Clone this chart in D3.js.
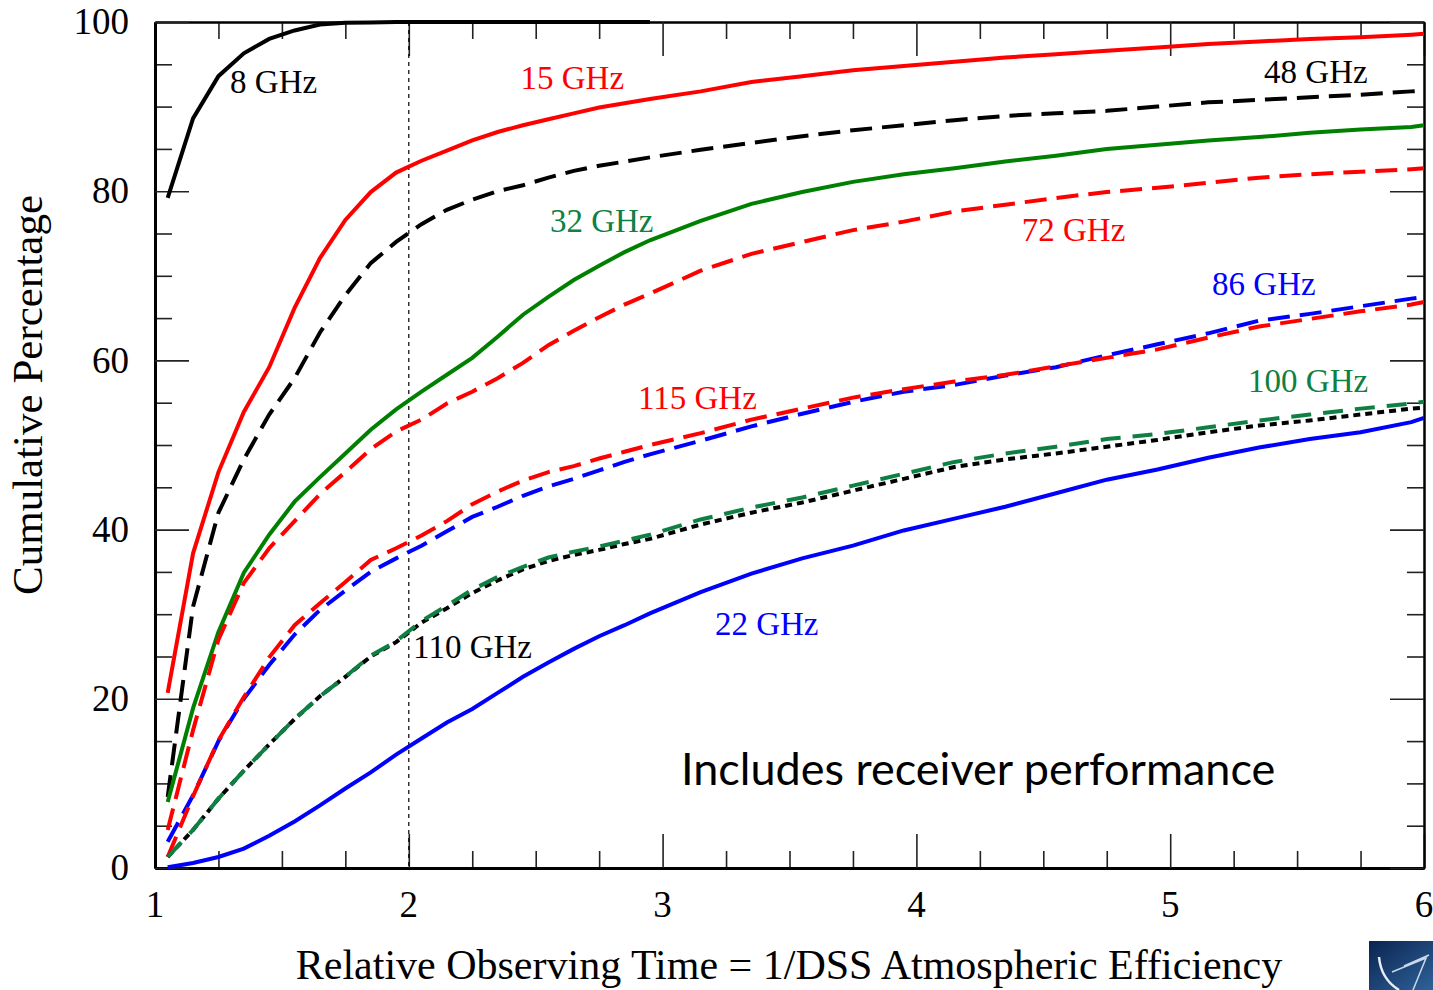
<!DOCTYPE html>
<html>
<head>
<meta charset="utf-8">
<script src="https://cdn.jsdelivr.net/npm/d3@7"></script>
<style>
  html, body { margin: 0; padding: 0; background: #ffffff; }
  svg { display: block; }
</style>
</head>
<body>
<svg id="chart" width="1433" height="990"></svg>
<script>
// Relative observing time (1 / atmospheric efficiency) at which each curve is sampled
const timeGrid = [1.05, 1.15, 1.25, 1.35, 1.45, 1.55, 1.65, 1.75, 1.85, 1.95,
                  2.05, 2.15, 2.25, 2.35, 2.45, 2.55, 2.65, 2.75, 2.85, 2.95,
                  3.15, 3.35, 3.55, 3.75, 3.95, 4.15, 4.35, 4.55, 4.75, 4.95,
                  5.15, 5.35, 5.55, 5.75, 5.95, 6.0];

// Cumulative percentage of time for each band
const pct8GHz   = [79.2, 88.6, 93.6, 96.3, 98.0, 99.0, 99.7, 99.9, 99.95, 100,
                   100, 100, 100, 100, 100, 100, 100, 100, 100, 100];
const pct15GHz  = [20.7, 37.2, 46.8, 53.9, 59.2, 66.2, 72.1, 76.6, 79.9, 82.2,
                   83.6, 84.8, 86.0, 87.0, 87.8, 88.5, 89.2, 89.9, 90.4, 90.9,
                   91.8, 92.9, 93.6, 94.3, 94.8, 95.3, 95.8, 96.2, 96.6, 97.0,
                   97.4, 97.7, 98.0, 98.2, 98.5, 98.6];
const pct48GHz  = [8.4, 30.9, 42.0, 48.3, 53.6, 57.9, 63.3, 67.7, 71.5, 74.0,
                   76.1, 77.8, 79.0, 80.0, 80.7, 81.6, 82.4, 83.0, 83.5, 84.0,
                   84.9, 85.7, 86.5, 87.2, 87.8, 88.4, 88.9, 89.2, 89.5, 90.0,
                   90.5, 90.8, 91.1, 91.4, 91.8, 91.9];
const pct32GHz  = [7.8, 18.9, 27.9, 34.9, 39.4, 43.3, 46.2, 49.0, 51.8, 54.2,
                   56.3, 58.3, 60.3, 62.8, 65.4, 67.5, 69.5, 71.2, 72.8, 74.2,
                   76.5, 78.5, 79.9, 81.1, 82.0, 82.7, 83.5, 84.2, 85.0, 85.5,
                   86.0, 86.4, 86.9, 87.3, 87.6, 87.8];
const pct72GHz  = [4.5, 16.3, 27.0, 33.7, 37.8, 41.0, 44.2, 46.8, 49.5, 51.6,
                   53.0, 54.9, 56.3, 57.9, 59.7, 61.8, 63.5, 65.1, 66.6, 67.9,
                   70.6, 72.6, 74.0, 75.4, 76.4, 77.6, 78.4, 79.2, 79.9, 80.4,
                   81.0, 81.6, 82.0, 82.3, 82.6, 82.7];
const pct86GHz  = [3.1, 8.6, 15.0, 20.0, 24.0, 27.6, 30.5, 32.8, 35.0, 36.6,
                   38.1, 39.8, 41.5, 42.7, 44.0, 45.1, 46.0, 47.0, 48.0, 48.9,
                   50.5, 52.2, 53.7, 55.1, 56.3, 57.1, 58.2, 59.2, 60.6, 61.9,
                   63.2, 64.7, 65.5, 66.4, 67.3, 67.5];
const pct115GHz = [1.3, 8.5, 15.1, 20.2, 24.9, 28.7, 31.3, 33.8, 36.4, 37.8,
                   39.3, 41.0, 43.0, 44.5, 45.8, 46.8, 47.5, 48.4, 49.2, 50.0,
                   51.4, 53.0, 54.3, 55.6, 56.6, 57.5, 58.3, 59.3, 60.3, 61.3,
                   62.7, 64.0, 64.9, 65.8, 66.6, 66.9];
const pct100GHz = [1.3, 4.5, 8.2, 11.5, 14.6, 17.6, 20.3, 22.6, 25.1, 26.8,
                   29.2, 31.0, 32.9, 34.4, 35.6, 36.7, 37.4, 38.0, 38.7, 39.4,
                   41.2, 42.6, 43.8, 45.2, 46.6, 48.0, 49.0, 49.8, 50.7, 51.3,
                   52.1, 52.9, 53.6, 54.3, 54.9, 55.1];
const pct110GHz = [1.3, 4.5, 8.2, 11.5, 14.6, 17.6, 20.3, 22.6, 25.0, 26.7,
                   29.0, 30.7, 32.5, 34.0, 35.3, 36.3, 37.0, 37.6, 38.3, 38.9,
                   40.6, 42.0, 43.2, 44.6, 46.0, 47.4, 48.3, 49.0, 49.8, 50.6,
                   51.5, 52.3, 52.9, 53.6, 54.3, 54.4];
const pct22GHz  = [0.1, 0.6, 1.3, 2.3, 3.8, 5.5, 7.4, 9.4, 11.3, 13.4,
                   15.3, 17.2, 18.8, 20.7, 22.6, 24.3, 25.9, 27.4, 28.7, 30.1,
                   32.6, 34.8, 36.6, 38.1, 39.9, 41.3, 42.7, 44.3, 45.9, 47.1,
                   48.5, 49.7, 50.7, 51.5, 52.7, 53.2];

// Axis ticks and labels
const xMajorTicks = [1, 2, 3, 4, 5, 6];
const yMajorTicks = [0, 20, 40, 60, 80, 100];
const xTitle = "Relative Observing Time = 1/DSS Atmospheric Efficiency";
const yTitle = "Cumulative Percentage";
const note = "Includes receiver performance";

// Colours and dash styles per band (drawn in this order)
const RED = "#ff0000", BLACK = "#000000", BLUE = "#0000ff",
      GREEN = "#008000", SEA = "#0f8043";
const series = [
  { name: "8 GHz",   values: pct8GHz,   color: BLACK, dash: null },
  { name: "15 GHz",  values: pct15GHz,  color: RED,   dash: null },
  { name: "48 GHz",  values: pct48GHz,  color: BLACK, dash: "22,10" },
  { name: "32 GHz",  values: pct32GHz,  color: GREEN, dash: null },
  { name: "72 GHz",  values: pct72GHz,  color: RED,   dash: "22,10" },
  { name: "86 GHz",  values: pct86GHz,  color: BLUE,  dash: "22,10" },
  { name: "115 GHz", values: pct115GHz, color: RED,   dash: "22,10" },
  { name: "110 GHz", values: pct110GHz, color: BLACK, dash: "7,5" },
  { name: "100 GHz", values: pct100GHz, color: SEA,   dash: "20,12" },
  { name: "22 GHz",  values: pct22GHz,  color: BLUE,  dash: null }
];

// Curve labels, anchored at (time, percent) of their left baseline
const curveLabels = [
  { text: "8 GHz",   t: 1.296, p: 91.6, color: BLACK },
  { text: "15 GHz",  t: 2.440, p: 92.1, color: RED },
  { text: "48 GHz",  t: 5.370, p: 92.8, color: BLACK },
  { text: "32 GHz",  t: 2.556, p: 75.2, color: SEA },
  { text: "72 GHz",  t: 4.415, p: 74.1, color: RED },
  { text: "86 GHz",  t: 5.165, p: 67.7, color: BLUE },
  { text: "115 GHz", t: 2.903, p: 54.2, color: RED },
  { text: "100 GHz", t: 5.307, p: 56.3, color: SEA },
  { text: "110 GHz", t: 2.017, p: 24.8, color: BLACK },
  { text: "22 GHz",  t: 3.206, p: 27.5, color: BLUE }
];

const svg = d3.select("#chart");
const plotLeft = 155, plotRight = 1424, plotTop = 22, plotBottom = 868;
const x = d3.scaleLinear().domain([1, 6]).range([plotLeft, plotRight]);
const y = d3.scaleLinear().domain([0, 100]).range([plotBottom, plotTop]);
const serif = "'Liberation Serif', 'Times New Roman', serif";

const xMinor = d3.range(1, 6.001, 0.25).filter(v => Math.abs(v - Math.round(v)) > 1e-6);
const yMinor = d3.range(0, 100.001, 5).filter(v => v % 20 !== 0);

function styleAxis(g, width) {
  g.select(".domain").attr("stroke", "#000").attr("stroke-width", width);
  g.selectAll(".tick line").attr("stroke", "#222").attr("stroke-width", 1.6);
}

// Inward tick marks on all four sides
[[d3.axisBottom, plotBottom, 3], [d3.axisTop, plotTop, 2]].forEach(([fn, pos, w]) => {
  svg.append("g").attr("transform", `translate(0,${pos})`)
    .call(fn(x).tickValues(xMinor).tickSize(-17).tickSizeOuter(0).tickFormat(""))
    .call(g => styleAxis(g, w));
  svg.append("g").attr("transform", `translate(0,${pos})`)
    .call(fn(x).tickValues(xMajorTicks).tickSize(-34).tickSizeOuter(0).tickFormat(""))
    .call(g => styleAxis(g, w));
});
[[d3.axisLeft, plotLeft, 3], [d3.axisRight, plotRight, 2]].forEach(([fn, pos, w]) => {
  svg.append("g").attr("transform", `translate(${pos},0)`)
    .call(fn(y).tickValues(yMinor).tickSize(-17).tickSizeOuter(0).tickFormat(""))
    .call(g => styleAxis(g, w));
  svg.append("g").attr("transform", `translate(${pos},0)`)
    .call(fn(y).tickValues(yMajorTicks).tickSize(-34).tickSizeOuter(0).tickFormat(""))
    .call(g => styleAxis(g, w));
});

// Tick labels
svg.append("g").selectAll("text").data(xMajorTicks).join("text")
  .attr("x", d => x(d)).attr("y", 917)
  .attr("text-anchor", "middle")
  .attr("font-family", serif).attr("font-size", 37)
  .text(d => d);
svg.append("g").selectAll("text").data(yMajorTicks).join("text")
  .attr("x", 129).attr("y", d => y(d)).attr("dy", "0.33em")
  .attr("text-anchor", "end")
  .attr("font-family", serif).attr("font-size", 37)
  .text(d => d);

// Axis titles
svg.append("text")
  .attr("x", 789).attr("y", 979)
  .attr("text-anchor", "middle")
  .attr("font-family", serif).attr("font-size", 42)
  .text(xTitle);
svg.append("text")
  .attr("transform", "translate(42,395) rotate(-90)")
  .attr("text-anchor", "middle")
  .attr("font-family", serif).attr("font-size", 43)
  .text(yTitle);

// Reference line at twice the nominal observing time
svg.append("line")
  .attr("x1", x(2)).attr("x2", x(2))
  .attr("y1", y(100)).attr("y2", y(0))
  .attr("stroke", "#000").attr("stroke-width", 1.2)
  .attr("stroke-dasharray", "4,4");

// Curves
const line = d3.line()
  .x(d => x(d[0]))
  .y(d => y(d[1]));
svg.append("g").selectAll("path").data(series).join("path")
  .attr("d", s => line(s.values.map((v, i) => [timeGrid[i], v])))
  .attr("fill", "none")
  .attr("stroke", s => s.color)
  .attr("stroke-width", 4)
  .attr("stroke-dasharray", s => s.dash);

// Curve labels
svg.append("g").selectAll("text").data(curveLabels).join("text")
  .attr("x", d => x(d.t)).attr("y", d => y(d.p))
  .attr("fill", d => d.color)
  .attr("font-family", serif).attr("font-size", 33)
  .text(d => d.text);

// Annotation
svg.append("text")
  .attr("x", 681).attr("y", 785)
  .attr("font-family", "Lato, 'Open Sans', sans-serif").attr("font-size", 45)
  .attr("fill", "#000")
  .text(note);

// Corner emblem
const defs = svg.append("defs");
const grad = defs.append("linearGradient").attr("id", "emblem")
  .attr("x1", "0").attr("y1", "0").attr("x2", "1").attr("y2", "1");
grad.append("stop").attr("offset", "0").attr("stop-color", "#0b2450");
grad.append("stop").attr("offset", "1").attr("stop-color", "#2e6299");
const emblem = svg.append("g");
emblem.append("rect").attr("x", 1369).attr("y", 941).attr("width", 64).attr("height", 49)
  .attr("fill", "url(#emblem)");
emblem.append("path").attr("d", "M1379,957 Q1381,979 1399,990")
  .attr("fill", "none").attr("stroke", "#e8eef7").attr("stroke-width", 2.5);
emblem.append("path").attr("d", "M1392,972 L1426,958 L1413,990 M1404,966 L1429,955")
  .attr("fill", "none").attr("stroke", "#c9d8ec").attr("stroke-width", 1.5);
</script>
</body>
</html>
